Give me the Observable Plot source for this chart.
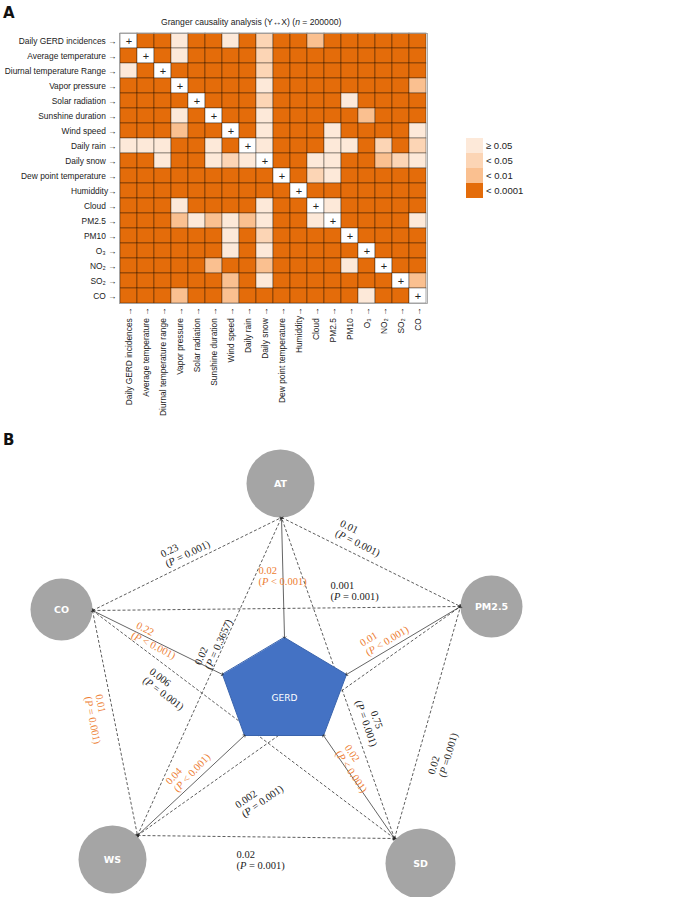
<!DOCTYPE html>
<html><head><meta charset="utf-8">
<script src="https://cdn.jsdelivr.net/npm/d3@7"></script>
<script src="https://cdn.jsdelivr.net/npm/@observablehq/plot@0.6"></script>
<style>
body{margin:0;background:#fff;}
#root{position:relative;width:683px;height:897px;overflow:hidden;font-family:"Liberation Sans",Arial,sans-serif;color:#222;}
.panel{position:absolute;font-family:"DejaVu Sans",sans-serif;font-weight:bold;font-size:15px;color:#111;line-height:1;}
#title{position:absolute;left:161px;top:17px;font-size:8.6px;white-space:nowrap;color:#222;}
.sw{position:absolute;left:466px;width:17px;height:15px;}
.lt{position:absolute;left:486px;font-size:9.5px;line-height:15px;color:#222;white-space:nowrap;}
#heat,#net{position:absolute;left:0;}
#heat{top:30px;} #net{top:430px;}
svg{overflow:visible;}
</style></head><body><div id="root">
<div class="panel" style="left:3px;top:6px;">A</div>
<div id="title">Granger causality analysis (Y↔X) (<i>n</i> = 200000)</div>
<div id="legend"></div>
<div id="heat"></div>
<div class="panel" style="left:3px;top:433px;">B</div>
<div id="net"></div>
</div>
<script>
// ---------- Panel A data ----------
const rowLabels = ["Daily GERD incidences","Average temperature","Diurnal temperature Range","Vapor pressure","Solar radiation","Sunshine duration","Wind speed","Daily rain","Daily snow","Dew point temperature","Humiddity","Cloud","PM2.5","PM10","O₃","NO₂","SO₂","CO"];
const colLabels = ["Daily GERD incidences","Average temperature","Diurnal temperature range","Vapor pressure","Solar radiation","Sunshine duration","Wind speed","Daily rain","Daily snow","Dew point temperature","Humiddity","Cloud","PM2.5","PM10","O₃","NO₂","SO₂","CO"];
// 0 = self, 1 = ≥0.05, 2 = <0.05, 3 = <0.01, 4 = <0.0001
const pLevels = [
 [0,4,4,1,4,4,1,4,2,4,4,3,4,4,4,4,4,4],
 [4,0,4,1,4,4,4,4,2,4,4,4,4,4,4,4,4,4],
 [1,4,0,4,4,4,4,4,2,4,4,4,4,4,4,4,4,4],
 [4,4,4,0,4,4,4,4,1,4,4,4,4,4,4,4,4,3],
 [4,4,4,4,0,4,4,4,2,4,4,4,4,1,4,4,4,4],
 [4,4,4,1,4,0,4,4,1,4,4,4,4,4,3,4,4,4],
 [4,4,4,3,4,4,0,4,1,4,4,4,1,4,4,4,4,1],
 [1,1,1,4,4,1,4,0,1,4,4,4,1,1,4,2,4,2],
 [4,4,1,4,4,1,2,1,0,4,4,1,1,4,4,3,2,1],
 [4,4,4,4,4,4,4,4,4,0,4,2,1,4,4,4,4,4],
 [4,4,4,4,4,4,4,4,4,4,0,4,4,4,4,4,4,4],
 [4,4,4,1,4,4,4,4,1,4,4,0,1,4,4,4,4,4],
 [4,4,4,3,1,3,1,3,1,4,4,1,0,4,4,4,4,1],
 [4,4,4,4,4,4,1,4,2,4,4,4,4,0,4,4,4,4],
 [4,4,4,4,4,4,1,4,1,4,4,4,4,4,0,4,4,4],
 [4,4,4,4,4,3,4,4,3,4,4,4,4,1,4,0,4,4],
 [4,4,4,4,4,4,3,4,1,4,4,4,4,4,4,4,0,3],
 [4,4,4,3,4,4,3,4,4,4,4,4,4,4,1,4,4,0]
];
const levelCodes = [0,1,2,3,4];
const levelColors = ["#ffffff","#fde9d9","#fcd5b5","#fac090","#e46c0a"];
const legendLabels = ["≥ 0.05","< 0.05","< 0.01","< 0.0001"];
const legendLevels = [1,2,3,4];

// ---------- Panel B data ----------
const nodes = [
 {id:"AT", x:280, y:483, r:34},
 {id:"CO", x:61, y:609, r:31},
 {id:"PM2.5", x:491, y:606, r:31},
 {id:"WS", x:112, y:859, r:34},
 {id:"SD", x:420, y:863, r:35}
];
const nodePorts = {AT:[281,517], CO:[92,610], "PM2.5":[460,606], WS:[137,835], SD:[394,838]};
const gerdShape = [[284,637],[346,674],[323,735],[244,735],[222,674]];
const gerdPorts = {AT:[284,637], "PM2.5":[346,674], SD:[323,735], WS:[244,735], CO:[222,674]};
const gerdCenter = [284, 698];
const gerdLinks = [
 {from:"AT", coef:"0.02", p:"P < 0.001"},
 {from:"CO", coef:"0.22", p:"P < 0.001"},
 {from:"PM2.5", coef:"0.01", p:"P < 0.001"},
 {from:"WS", coef:"0.04", p:"P < 0.001"},
 {from:"SD", coef:"0.02", p:"P < 0.001"}
];
const pairLinks = [
 {a:"CO", b:"AT", coef:"0.23", p:"P = 0.001", hi:false},
 {a:"AT", b:"PM2.5", coef:"0.01", p:"P = 0.001", hi:false},
 {a:"CO", b:"PM2.5", coef:"0.001", p:"P = 0.001", hi:false},
 {a:"CO", b:"SD", coef:"0.006", p:"P = 0.001", hi:false},
 {a:"CO", b:"WS", coef:"0.01", p:"P = 0.001", hi:true},
 {a:"WS", b:"AT", coef:"0.02", p:"P = 0.3657", hi:false},
 {a:"SD", b:"AT", coef:"0.75", p:"P = 0.001", hi:false},
 {a:"WS", b:"PM2.5", coef:"0.002", p:"P = 0.001", hi:false},
 {a:"SD", b:"PM2.5", coef:"0.02", p:"P =0.001", hi:false},
 {a:"WS", b:"SD", coef:"0.02", p:"P = 0.001", hi:false}
];
// label placement (layout, not data)
const gerdLabelLayout = {
 AT:{x:258,y:575,rot:0,anchor:"start"},
 CO:{x:134,y:629,rot:27,anchor:"start"},
 "PM2.5":{x:363,y:648,rot:-31,anchor:"start"},
 WS:{x:171,y:786,rot:-47,anchor:"start"},
 SD:{x:342,y:748,rot:56,anchor:"start"}
};
const pairLabelLayout = [
 {x:163,y:559,rot:-26,anchor:"start"},
 {x:338,y:527,rot:26,anchor:"start"},
 {x:330,y:590,rot:0,anchor:"start"},
 {x:147,y:674,rot:37,anchor:"start"},
 {x:93,y:695,rot:79,anchor:"start"},
 {x:202,y:666,rot:-66,anchor:"start"},
 {x:371,y:721,rot:71,anchor:"middle"},
 {x:239,y:810,rot:-35,anchor:"start"},
 {x:436,y:775,rot:-74,anchor:"start"},
 {x:236,y:859,rot:0,anchor:"start"}
];
const orange = "#ed7d31";

// ---------- Legend ----------
const lg = document.getElementById("legend");
legendLabels.forEach((t,i)=>{
  const top = 138 + i*15;
  const s = document.createElement("div"); s.className="sw"; s.style.top=top+"px"; s.style.background=levelColors[legendLevels[i]]; lg.appendChild(s);
  const l = document.createElement("div"); l.className="lt"; l.style.top=top+"px"; l.textContent=t; lg.appendChild(l);
});

// ---------- Heatmap ----------
const cells = [];
pLevels.forEach((row,i)=>row.forEach((lv,j)=>cells.push({row:rowLabels[i], col:colLabels[j], lv})));
const arrowFmt = d => d === "Humiddity" ? d + "→" : d + " →";
const heat = Plot.plot({
  width:683, height:403,
  marginTop:3, marginLeft:119, marginRight:256, marginBottom:130,
  style:{fontFamily:"Liberation Sans, Arial, sans-serif", fontSize:"8.4px", color:"#222", background:"transparent", overflow:"visible"},
  x:{domain:colLabels, padding:0, label:null, tickSize:0, tickRotate:-90, tickPadding:4, tickFormat:arrowFmt},
  y:{domain:rowLabels, padding:0, label:null, tickSize:0, tickPadding:3, tickFormat:arrowFmt},
  color:{type:"ordinal", domain:levelCodes, range:levelColors},
  marks:[
    Plot.cell(cells,{x:"col", y:"row", fill:"lv", inset:0, stroke:"#000", strokeOpacity:0.5, strokeWidth:0.7}),
    Plot.text(cells.filter(d=>d.lv===0),{x:"col", y:"row", text:()=>"+", fontSize:11, fill:"#222"}),
    Plot.frame({stroke:"#999", strokeWidth:0.8})
  ]
});
document.getElementById("heat").appendChild(heat);

// ---------- Network ----------
const dashed = pairLinks.map(e=>({x1:nodePorts[e.a][0], y1:nodePorts[e.a][1], x2:nodePorts[e.b][0], y2:nodePorts[e.b][1]}));
const solid = gerdLinks.map(e=>({x1:nodePorts[e.from][0], y1:nodePorts[e.from][1], x2:gerdPorts[e.from][0], y2:gerdPorts[e.from][1]}));
const labels = [
  ...gerdLinks.map(e=>({...gerdLabelLayout[e.from], text:`${e.coef}\n(${e.p})`, color:orange})),
  ...pairLinks.map((e,i)=>({...pairLabelLayout[i], text:`${e.coef}\n(${e.p})`, color:e.hi?orange:"#222"}))
];
const pent = gerdShape.map(([x,y])=>({x,y}));
const net = Plot.plot({
  width:683, height:467, margin:0,
  x:{domain:[0,683], range:[0,683], axis:null},
  y:{domain:[430,897], range:[0,467], axis:null},
  r:{type:"identity"},
  color:{type:"identity"},
  style:{background:"transparent", overflow:"visible"},
  marks:[
    Plot.link(dashed,{x1:"x1",y1:"y1",x2:"x2",y2:"y2", stroke:"#333", strokeWidth:0.8, strokeDasharray:"3,2", markerStart:"arrow", markerEnd:"arrow"}),
    Plot.dot(nodes,{x:"x", y:"y", r:"r", fill:"#a5a5a5", stroke:"none"}),
    Plot.line(pent,{x:"x", y:"y", curve:"linear-closed", fill:"#4472c4", stroke:"#3a64ad", strokeWidth:1}),
    Plot.link(solid,{x1:"x1",y1:"y1",x2:"x2",y2:"y2", stroke:"#222", strokeWidth:0.7, markerStart:"arrow", markerEnd:"arrow"}),
    Plot.text(nodes,{x:"x", y:"y", text:"id", fill:"#fff", fontFamily:"DejaVu Sans", fontWeight:"bold", fontSize:9.5}),
    Plot.text([{x:gerdCenter[0], y:gerdCenter[1], t:"GERD"}],{x:"x", y:"y", text:"t", fill:"#fff", fontFamily:"DejaVu Sans", fontSize:9}),
    Plot.text(labels.filter(d=>d.anchor==="start"),{x:"x", y:"y", text:"text", rotate:"rot", fill:"color", textAnchor:"start", fontFamily:"Liberation Serif", fontSize:10.5, lineHeight:1.05}),
    Plot.text(labels.filter(d=>d.anchor==="middle"),{x:"x", y:"y", text:"text", rotate:"rot", fill:"color", textAnchor:"middle", fontFamily:"Liberation Serif", fontSize:10.5, lineHeight:1.05})
  ]
});
document.getElementById("net").appendChild(net);
// italic P
net.querySelectorAll("tspan").forEach(t=>{
  const s = t.textContent;
  if (s.startsWith("(P")) {
    t.textContent = "";
    t.append(document.createTextNode("("));
    const it = document.createElementNS("http://www.w3.org/2000/svg","tspan");
    it.setAttribute("font-style","italic"); it.textContent = "P";
    t.append(it);
    t.append(document.createTextNode(s.slice(2)));
  }
});
</script></body></html>
